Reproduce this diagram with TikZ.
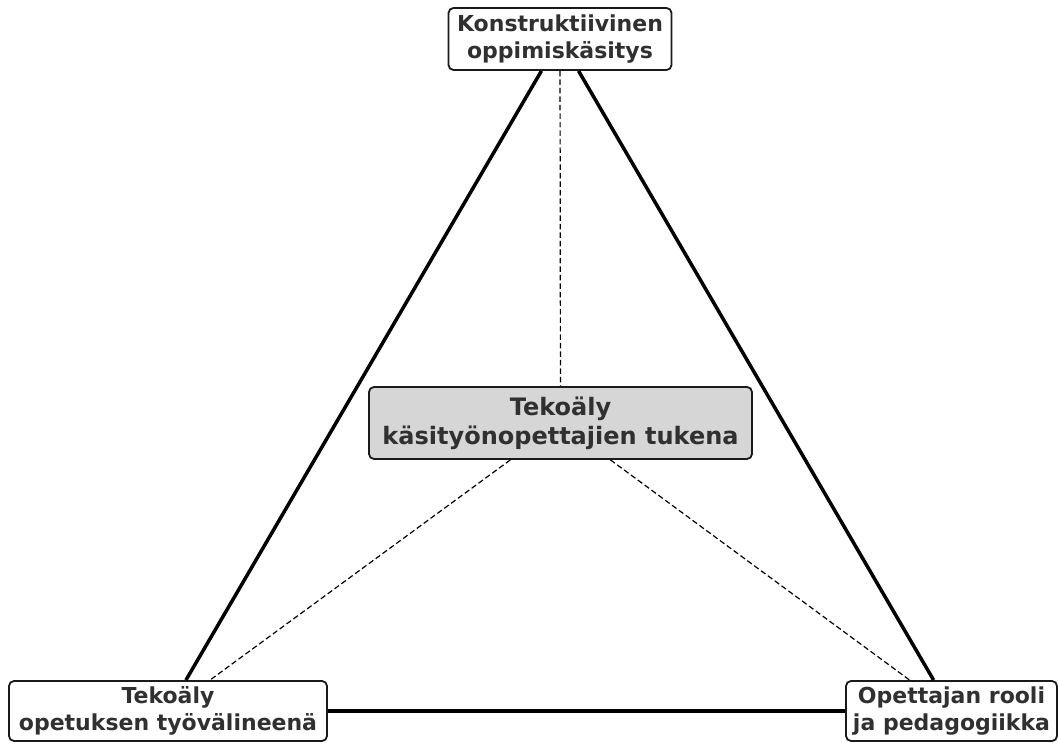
\documentclass[tikz,border=0pt]{standalone}
\usepackage{fontspec}
\setmainfont{DejaVu Sans}
\definecolor{txt}{HTML}{303030}
\definecolor{edge}{HTML}{1A1A1A}
\definecolor{hub}{HTML}{D6D6D6}
\begin{document}
\begin{tikzpicture}[x=1pt,y=1pt,
  box/.style={draw=edge, line width=1.8pt, rounded corners=5pt, fill=white,
    align=center, text=txt, font=\bfseries\fontsize{22}{27}\selectfont,
    inner sep=0pt},
  hubbox/.style={box, fill=hub, font=\bfseries\fontsize{24}{29}\selectfont},
  solidlink/.style={draw=black, line width=3.5pt},
  dashlink/.style={draw=black, line width=1.2pt, dash pattern=on 5.5pt off 3pt}
]
\useasboundingbox (0,0) rectangle (1058,742);
\node[box, minimum width=223, minimum height=62] (top) at (560,703) {Konstruktiivinen\\oppimiskäsitys};
\node[hubbox, minimum width=383, minimum height=72] (hub) at (560.5,319) {Tekoäly\\käsityönopettajien tukena};
\node[box, minimum width=318, minimum height=60] (bl) at (168,31) {Tekoäly\\opetuksen työvälineenä};
\node[box, minimum width=211, minimum height=60] (br) at (951.5,31) {Opettajan rooli\\ja pedagogiikka};
\draw[solidlink] (top) -- (bl);
\draw[solidlink] (top) -- (br);
\draw[solidlink] (bl) -- (br);
\draw[dashlink] (top) -- (hub);
\draw[dashlink] (hub) -- (bl);
\draw[dashlink] (hub) -- (br);
\end{tikzpicture}
\end{document}
